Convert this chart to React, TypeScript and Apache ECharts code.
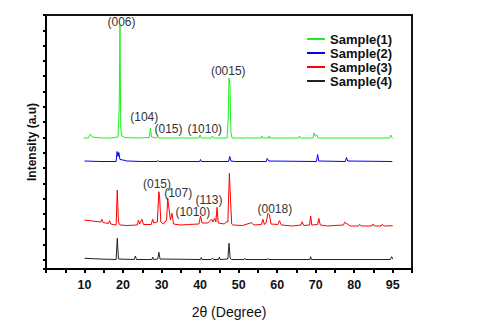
import React, { useEffect, useRef } from "react";
import * as echarts from "echarts";

// ---- data (2θ in degrees, intensity above each sample's baseline, a.u.) ----
const seriesNames = ["Sample(1)", "Sample(2)", "Sample(3)", "Sample(4)"];
const seriesColors = ["#1ef01e", "#0000ff", "#ff0000", "#222222"];
const seriesOffsets = [131, 107.5, 42, 9];

const sample1: [number, number][] = [
  [9.7, 0], [11.0, 0], [11.5, 4], [12.0, 1], [13, 0.5], [15, 0], [17, 0], [18.7, 1],
  [19.0, 30], [19.2, 113], [19.4, 10], [19.7, 2], [20.5, 0.5], [24, 0], [26.8, 0.5],
  [27.1, 10], [27.4, 1], [28.7, 0], [29.0, 2], [29.3, 0], [35.0, 0], [35.2, 1], [35.4, 0],
  [39.7, 0], [40.0, 3], [40.3, 0], [42.9, 0], [43.2, 2], [43.5, 0], [47.0, 0], [47.3, 20],
  [47.5, 60], [47.75, 53], [48.0, 5], [48.3, 0], [52.2, 0], [52.4, 1], [52.6, 0], [55.8, 0],
  [56.0, 2], [56.2, 0], [57.7, 0], [57.9, 2], [58.1, 0], [65.6, 0], [65.8, 2], [66.0, 0],
  [69.3, 0], [69.6, 5], [69.9, 2], [70.3, 3], [70.6, 0], [89.2, 0], [89.5, 3], [89.8, 0.5], [90, 0],
];

const sample2: [number, number][] = [
  [10, 0.5], [14, 0], [18.2, 0], [18.45, 10], [18.7, 5], [18.9, 9], [19.2, 2], [20, 1.5],
  [21, 0.5], [25, 0], [28.8, 0], [29.0, 1], [29.2, 0], [39.9, 0], [40.1, 2], [40.3, 0],
  [47.4, 0], [47.7, 5], [48.0, 0.5], [49, 0], [57.2, 0], [57.4, 3], [57.8, 0.5], [70.2, 0],
  [70.5, 7], [70.8, 0.5], [77.7, 0], [78.0, 4], [78.3, 0.5], [89.9, 0],
];

const sample3: [number, number][] = [
  [10, 7], [12, 6], [14.2, 5], [14.5, 7.7], [14.8, 4.5], [16.2, 3.5], [16.5, 6.3], [16.8, 3],
  [18.2, 2], [18.5, 37], [18.8, 5], [19.2, 2], [21, 1.5], [23.7, 2], [24.0, 7], [24.3, 3],
  [24.9, 7.7], [25.3, 2.5], [27.3, 2.5], [27.7, 7.7], [28.0, 4], [28.9, 5], [29.3, 35.3],
  [29.5, 30], [29.8, 5], [30.5, 3], [31.3, 7], [31.6, 28.7], [31.9, 19], [32.3, 7],
  [32.7, 13.7], [33.1, 3], [35, 2], [37, 2.5], [39.7, 3], [40.1, 11], [40.5, 4], [42, 4],
  [43.0, 8], [43.3, 5], [43.8, 8.7], [44.1, 5], [44.4, 19.7], [44.7, 4], [46.3, 3],
  [46.8, 5.3], [47.2, 5], [47.6, 53.7], [47.9, 27], [48.2, 3], [48.5, 2], [51, 1.5],
  [53.3, 4.3], [54, 2], [55.9, 2.5], [56.3, 7.7], [56.7, 2.5], [57.2, 5], [57.6, 13.7],
  [58.0, 12], [58.4, 3], [60.2, 2.5], [60.6, 6.3], [61.1, 2], [64, 1], [66.2, 2],
  [66.5, 5.3], [66.9, 1.5], [68.4, 2], [68.7, 11], [69.0, 2], [70.5, 2.5], [70.8, 8.7],
  [71.2, 2], [73, 1], [75, 1.5], [77.2, 2], [77.5, 4.7], [78.2, 3], [79, 1], [81.1, 1],
  [81.4, 2.7], [81.8, 1], [84.6, 1], [84.9, 3], [85.3, 1], [87.0, 1], [87.3, 2.7],
  [87.7, 1], [90, 1.3],
];

const sample4: [number, number][] = [
  [10, 1.7], [14, 1], [18.2, 0.5], [18.5, 21.7], [18.8, 1], [22.9, 0.5], [23.2, 4],
  [23.5, 0.5], [27.5, 0.5], [27.7, 3], [27.9, 0.5], [29.0, 1], [29.3, 7.7], [29.6, 1],
  [40.1, 0.5], [40.3, 2.5], [40.5, 0.5], [42.9, 0.5], [43.2, 2], [43.5, 0.5], [44.8, 0.5],
  [45.0, 3], [45.2, 0.5], [47.2, 1], [47.5, 16.7], [47.8, 2], [48.1, 0.5], [51.4, 0.5],
  [51.6, 1.7], [51.8, 0.5], [57.4, 0.5], [57.6, 1.5], [57.8, 0.5], [68.5, 0.5],
  [68.7, 3.3], [68.9, 0.5], [89.4, 0.5], [89.7, 3.3], [90, 1],
];

const samples = [sample1, sample2, sample3, sample4];

// peak annotations: [2θ, absolute a.u. position, label]
const peaks1: [number, number, string][] = [
  [19.6, 247, "(006)"], [25.5, 152, "(104)"], [31.8, 140, "(015)"],
  [41.2, 140, "(1010)"], [47.3, 198, "(0015)"],
];
const peaks3: [number, number, string][] = [
  [28.8, 85, "(015)"], [34.3, 75.7, "(107)"], [38.1, 56.7, "(1010)"],
  [42.3, 69.3, "(113)"], [59.4, 59.7, "(0018)"],
];
const peakLabels = [peaks1, [], peaks3, []];

const xTickValues = [10, 20, 30, 40, 50, 60, 70, 80, 90];
const xTickLabels = ["10", "20", "30", "40", "50", "60", "70", "80", "95"];

const FONT = "Liberation Sans, Arial, sans-serif";
const FRAME = "#141414";

export default function App() {
  const ref = useRef<HTMLDivElement>(null);
  useEffect(() => {
    if (!ref.current) return;
    document.body.style.margin = "0";
    const chart = echarts.init(ref.current, undefined, { renderer: "svg" });
    const series: any[] = samples.map((pts, i) => ({
      name: seriesNames[i],
      type: "line",
      xAxisIndex: 0,
      yAxisIndex: 1,
      showSymbol: false,
      symbol: "none",
      color: seriesColors[i],
      lineStyle: { width: 1, color: seriesColors[i] },
      data: pts.map(([x, y]) => [x, y + seriesOffsets[i]]),
      markPoint: peakLabels[i].length
        ? {
            symbol: "circle",
            symbolSize: 0,
            itemStyle: { color: "transparent" },
            label: {
              show: true,
              position: "inside",
              formatter: "{b}",
              color: "#333",
              fontFamily: FONT,
              fontSize: 12,
            },
            data: (peakLabels[i] as [number, number, string][]).map(([x, y, t]) => ({
              name: t,
              coord: [x, y],
            })),
          }
        : undefined,
    }));
    chart.setOption({
      animation: false,
      backgroundColor: "#fff",
      grid: {
        left: 46,
        right: 68,
        top: 15,
        bottom: 55,
        show: true,
        backgroundColor: "rgba(255,255,255,0)",
        borderColor: FRAME,
        borderWidth: 2,
      },
      legend: {
        orient: "vertical",
        left: 302,
        top: 27,
        icon: "rect",
        itemWidth: 18,
        itemHeight: 2,
        itemGap: 0,
        textStyle: {
          fontFamily: FONT,
          fontWeight: "bold",
          fontSize: 13,
          color: "#111",
          lineHeight: 14,
        },
        data: seriesNames,
      },
      xAxis: [
        {
          type: "value",
          min: 0,
          max: 95,
          interval: 5,
          name: "2θ (Degree)",
          nameLocation: "middle",
          nameGap: 36,
          nameTextStyle: { fontFamily: FONT, fontSize: 14, color: "#111" },
          axisLine: { onZero: false, lineStyle: { color: "#000", width: 2 } },
          axisTick: { show: true, length: 4, lineStyle: { color: "#000", width: 2 } },
          splitLine: { show: false },
          axisLabel: {
            show: true,
            interval: 0,
            margin: 9,
            fontFamily: FONT,
            fontWeight: "bold",
            fontSize: 12.5,
            color: "#111",
            formatter: (v: number) => {
              const k = xTickValues.indexOf(v);
              return k >= 0 ? xTickLabels[k] : "";
            },
          },
        },
        {
          type: "value",
          position: "top",
          min: 0,
          max: 95,
          axisLine: { show: true, onZero: false, lineStyle: { color: FRAME, width: 2 } },
          axisTick: { show: false },
          axisLabel: { show: false },
          splitLine: { show: false },
        },
      ],
      yAxis: [
        {
          type: "value",
          inverse: true,
          min: 0,
          max: 16.6,
          interval: 1,
          name: "Intensity (a.u)",
          nameLocation: "middle",
          nameGap: 8,
          nameRotate: 90,
          nameTextStyle: {
            fontFamily: FONT,
            fontWeight: "bold",
            fontSize: 12,
            color: "#111",
          },
          axisLine: { show: true, onZero: false, lineStyle: { color: "#000", width: 2 } },
          axisTick: { show: true, length: 3, lineStyle: { color: "#000", width: 2 } },
          axisLabel: { show: false },
          splitLine: { show: false },
        },
        {
          type: "value",
          position: "right",
          min: 0,
          max: 254,
          axisLine: { show: true, onZero: false, lineStyle: { color: FRAME, width: 2 } },
          axisTick: { show: false },
          axisLabel: { show: false },
          splitLine: { show: false },
        },
      ],
      series,
    });
    return () => chart.dispose();
  }, []);
  return (
    <div
      ref={ref}
      style={{ position: "fixed", left: 0, top: 0, width: 480, height: 324 }}
    />
  );
}
